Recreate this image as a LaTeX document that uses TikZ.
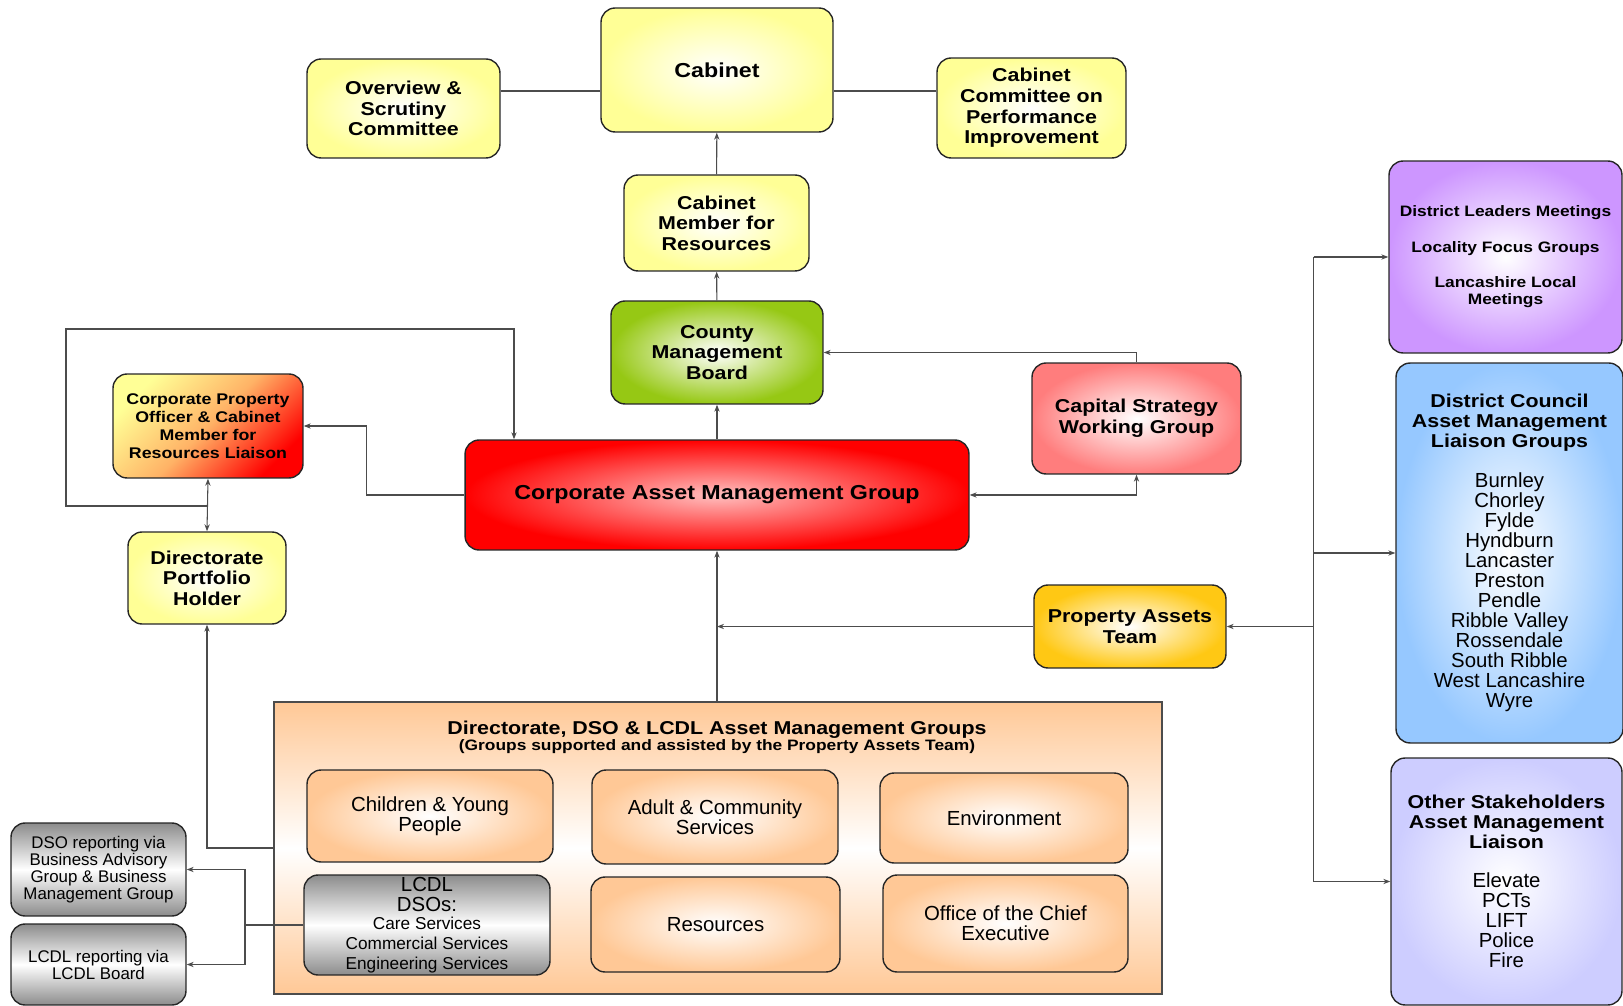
\documentclass[tikz,border=0pt]{standalone}
\usepackage{fontspec}
\setmainfont{Liberation Sans}[BoldFeatures={FakeStretch=1.15}]
\usetikzlibrary{arrows.meta}

\definecolor{paleyellow}{RGB}{255,255,150}
\definecolor{boardgreen}{RGB}{150,200,20}
\definecolor{salmon}{RGB}{255,125,125}
\definecolor{gold}{RGB}{255,200,20}
\definecolor{lilac}{RGB}{205,150,255}
\definecolor{skyblue}{RGB}{150,200,255}
\definecolor{periwinkle}{RGB}{205,205,255}
\definecolor{peach}{RGB}{255,200,150}
\definecolor{steel}{RGB}{140,140,140}

\newcommand{\listhead}{\fontsize{10.6}{11.7}\selectfont\bfseries}
\newcommand{\smallline}{\fontsize{9.8}{9.7}\selectfont}

\begin{document}
\begin{tikzpicture}[x=0.02cm, y=-0.02cm,
    box/.style={draw=black!85, line width=0.8pt, rounded corners=8pt, align=center, inner sep=1pt},
    boldbox/.style={box, font=\fontsize{10.6}{11.7}\selectfont\bfseries},
    plainbox/.style={box, font=\fontsize{11.6}{11.4}\selectfont},
    glow/.style={inner color=white, outer color=#1},
    greybox/.style={top color=steel, bottom color=steel, middle color=white},
    link/.style={draw=black!70, line width=0.6pt, -{Stealth[length=4pt, width=3pt]}},
    twoway/.style={link, {Stealth[length=4pt, width=3pt]}-{Stealth[length=4pt, width=3pt]}},
    wire/.style={draw=black!70, line width=0.6pt}]
    \useasboundingbox (0, 0) rectangle (1623, 1006);

    % Top of the structure
    \node[boldbox, glow=paleyellow, minimum width=4.64cm, minimum height=2.48cm, font=\fontsize{11.5}{12}\selectfont\bfseries] (cabinet) at (717, 70) {Cabinet};
    \node[boldbox, glow=paleyellow, minimum width=3.86cm, minimum height=1.98cm] (scrutiny) at (403.5, 108.5) {Overview \&\\Scrutiny\\Committee};
    \node[boldbox, glow=paleyellow, minimum width=3.78cm, minimum height=2cm] (performance) at (1031.5, 108) {Cabinet\\Committee on\\Performance\\Improvement};
    \node[boldbox, glow=paleyellow, minimum width=3.7cm, minimum height=1.92cm] (member) at (716.5, 223) {Cabinet\\Member for\\Resources};
    \node[boldbox, glow=boardgreen, minimum width=4.24cm, minimum height=2.06cm] (board) at (717, 352.5) {County\\Management\\Board};

    % Middle row
    \node[boldbox, minimum width=3.8cm, minimum height=2.08cm, font=\fontsize{8.8}{10.2}\selectfont\bfseries,
        top color=paleyellow, bottom color=red, middle color=orange!60, shading angle=45] (liaison) at (208, 426) {Corporate Property\\Officer \& Cabinet\\Member for\\Resources Liaison};
    \node[boldbox, inner color=red!25!white, outer color=red, minimum width=10.08cm, minimum height=2.2cm, font=\fontsize{11.5}{12}\selectfont\bfseries] (camg) at (717, 495) {Corporate Asset Management Group};
    \node[boldbox, glow=salmon, minimum width=4.18cm, minimum height=2.22cm] (strategy) at (1136.5, 418.5) {Capital Strategy\\Working Group};
    \node[boldbox, glow=paleyellow, minimum width=3.16cm, minimum height=1.84cm] (portfolio) at (207, 578) {Directorate\\Portfolio\\Holder};
    \node[boldbox, glow=gold, minimum width=3.84cm, minimum height=1.66cm] (assets) at (1130, 626.5) {Property Assets\\Team};

    % Right column
    \node[boldbox, glow=lilac, minimum width=4.66cm, minimum height=3.84cm, font=\fontsize{8.6}{10}\selectfont\bfseries] (leaders) at (1505.5, 257) {District Leaders Meetings\\[10pt]Locality Focus Groups\\[10pt]Lancashire Local\\Meetings};
    \node[plainbox, glow=skyblue, minimum width=4.54cm, minimum height=7.6cm] (district) at (1509.5, 553) {\listhead District Council\\\listhead Asset Management\\\listhead Liaison Groups\\[11pt]Burnley\\Chorley\\Fylde\\Hyndburn\\Lancaster\\Preston\\Pendle\\Ribble Valley\\Rossendale\\South Ribble\\West Lancashire\\Wyre};
    \node[plainbox, glow=periwinkle, minimum width=4.62cm, minimum height=4.94cm] (others) at (1506.5, 881.5) {\listhead Other Stakeholders\\\listhead Asset Management\\\listhead Liaison\\[11pt]Elevate\\PCTs\\LIFT\\Police\\Fire};

    % Asset management groups
    \node[draw=black!70, line width=0.8pt, top color=peach, bottom color=peach, middle color=white, minimum width=17.76cm, minimum height=5.84cm] (groups) at (718, 848) {};
    \node[font=\fontsize{10.6}{11.7}\selectfont\bfseries] (groupstitle) at (717, 730) {Directorate, DSO \& LCDL Asset Management Groups};
    \node[font=\fontsize{8.6}{10}\selectfont\bfseries] (groupsnote) at (717, 747) {(Groups supported and assisted by the Property Assets Team)};
    \node[plainbox, glow=peach, minimum width=4.92cm, minimum height=1.84cm] (children) at (430, 816) {Children \& Young\\People};
    \node[plainbox, glow=peach, minimum width=4.92cm, minimum height=1.88cm] (adult) at (715, 817) {Adult \& Community\\Services};
    \node[plainbox, glow=peach, minimum width=4.96cm, minimum height=1.8cm] (environment) at (1004, 818) {Environment};
    \node[plainbox, greybox, minimum width=4.92cm, minimum height=2cm] (dsos) at (427, 925) {LCDL\\DSOs:\\[-1pt]\smallline Care Services\\\smallline Commercial Services\\\smallline Engineering Services};
    \node[plainbox, glow=peach, minimum width=4.98cm, minimum height=1.9cm] (resources) at (715.5, 924.5) {Resources};
    \node[plainbox, glow=peach, minimum width=4.9cm, minimum height=1.94cm] (chief) at (1005.5, 923.5) {Office of the Chief\\Executive};

    % Reporting boxes
    \node[plainbox, greybox, minimum width=3.5cm, minimum height=1.86cm, font=\fontsize{9.6}{9.7}\selectfont] (dsoreport) at (98.5, 869.5) {DSO reporting via\\Business Advisory\\Group \& Business\\Management Group};
    \node[plainbox, greybox, minimum width=3.5cm, minimum height=1.62cm, font=\fontsize{9.6}{9.7}\selectfont] (lcdlreport) at (98.5, 964.5) {LCDL reporting via\\LCDL Board};

    % Helper points
    \coordinate (cabrow) at (0, 91);
    \coordinate (loop) at (208, 506);
    \coordinate (looptop) at (514, 329);
    \coordinate (bus) at (1313.5, 626.5);
    \coordinate (split) at (245, 925);

    % Edges
    \draw[wire] (scrutiny.east |- cabrow) -- (cabinet.west |- cabrow);
    \draw[wire] (cabinet.east |- cabrow) -- (performance.west |- cabrow);
    \draw[link] (member) -- (cabinet);
    \draw[link] (board) -- (member);
    \draw[link] (camg) -- (board);
    \draw[link] (strategy.north) |- (board.east);
    \draw[twoway] (camg.east) -| (strategy.south);
    \draw[link] (camg.west) -- ++(-98, 0) |- (liaison.east);
    \draw[twoway] (liaison.south) -- (portfolio.north);
    \draw[link] (loop) -- ++(-142, 0) |- (looptop) -- (camg.north -| looptop);
    \draw[link] (groups.west) -| (portfolio.south);
    \draw[link] (groups.north -| camg.south) -- (camg.south);
    \draw[link] (assets.west) -- (assets.west -| camg.south);
    \draw[wire] (bus |- leaders.west) -- (bus |- others.west);
    \draw[link] (bus) -- (assets.east);
    \draw[link] (bus |- leaders.west) -- (leaders.west);
    \draw[link] (bus |- district.west) -- (district.west);
    \draw[link] (bus |- others.west) -- (others.west);
    \draw[wire] (dsos.west) -- (split);
    \draw[link] (split) |- (dsoreport.east);
    \draw[link] (split) |- (lcdlreport.east);
\end{tikzpicture}
\end{document}
